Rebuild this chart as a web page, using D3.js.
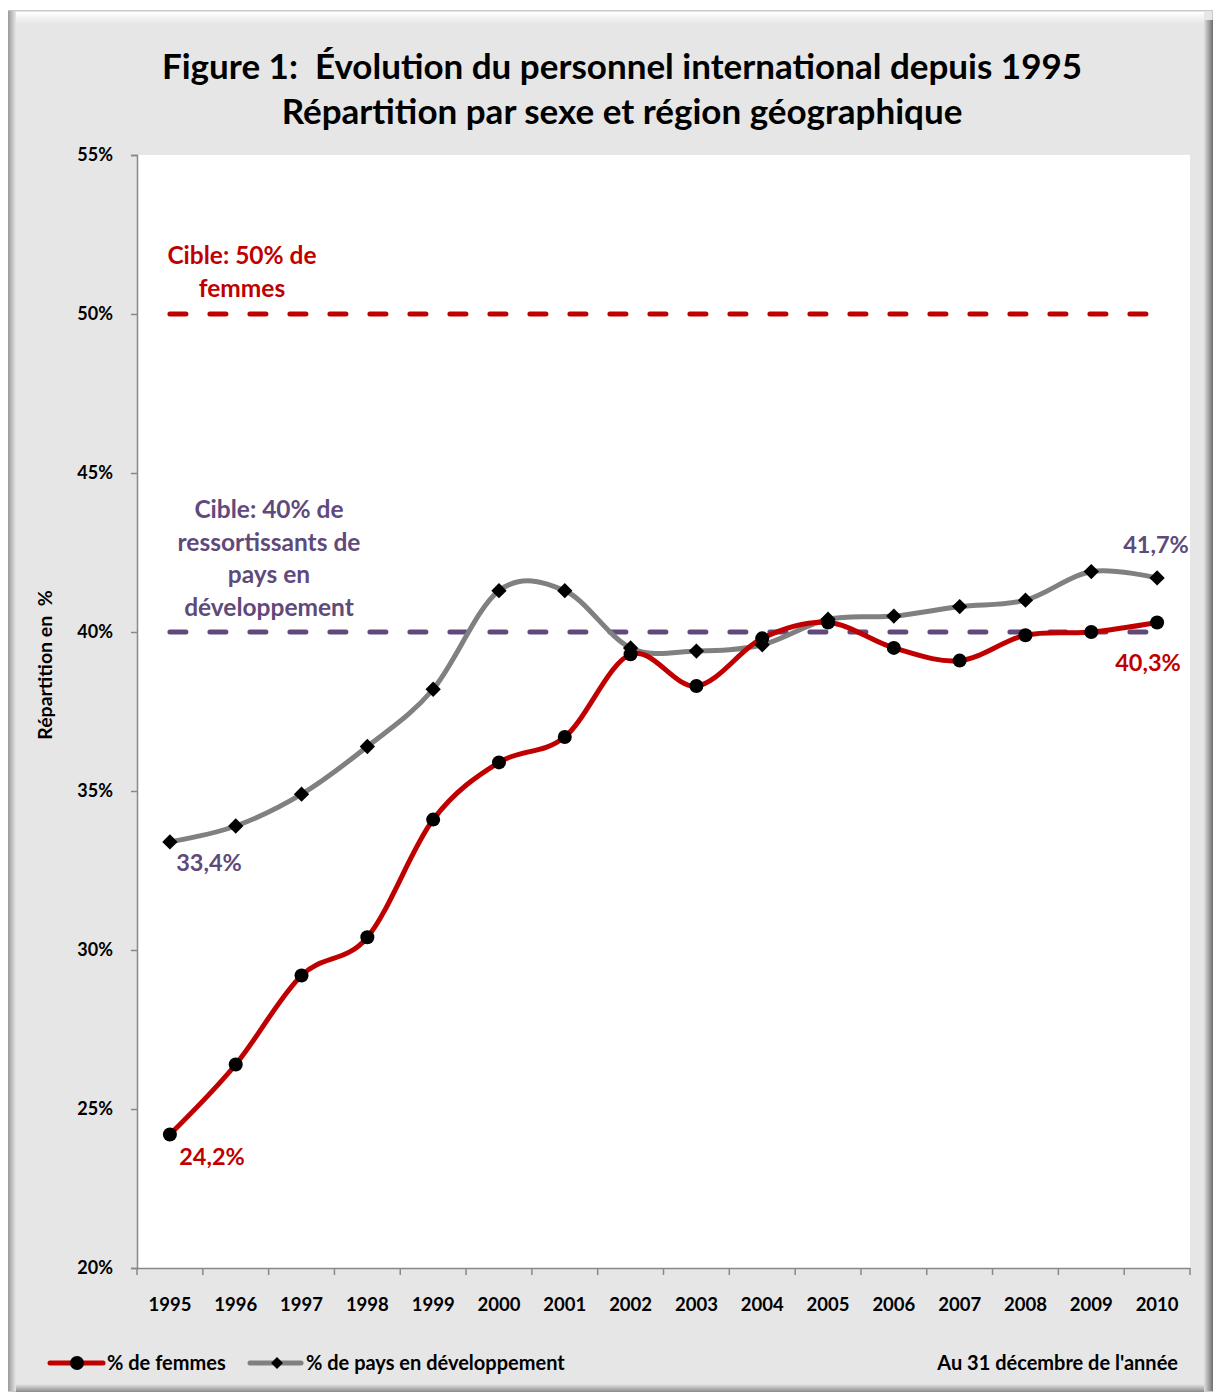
<!DOCTYPE html>
<html>
<head>
<meta charset="utf-8">
<script src="https://cdn.jsdelivr.net/npm/d3@7"></script>
<style>
  body { margin: 0; background: #fff; }
  text { font-family: Lato, "Open Sans", sans-serif; font-weight: bold; }
</style>
</head>
<body>
<div id="container"></div>
<script>
/* CONSTANTS AND GLOBALS */
const width = 1215,
  height = 1394,
  margin = { top: 155, bottom: 126, left: 137, right: 25 }

// data
const years = d3.range(1995, 2011).map(String)
const femmes = [24.2, 26.4, 29.2, 30.4, 34.1, 35.9, 36.7, 39.3, 38.3, 39.8, 40.3, 39.5, 39.1, 39.9, 40.0, 40.3]
const paysDev = [33.4, 33.9, 34.9, 36.4, 38.2, 41.3, 41.3, 39.5, 39.4, 39.6, 40.4, 40.5, 40.8, 41.0, 41.9, 41.7]
const yTicks = [20, 25, 30, 35, 40, 45, 50, 55]
const cibleFemmes = 50
const cibleDev = 40

const red = "#c00000", purple = "#604a7b", grey = "#808080"
const fmt = v => d3.format(".1f")(v).replace(".", ",") + "%"

const svg = d3.select("#container")
  .append("svg")
  .attr("width", width)
  .attr("height", height)

// frame with bevel
const defs = svg.append("defs")
const gl = defs.append("linearGradient").attr("id", "gl").attr("x1", 0).attr("x2", 1)
gl.append("stop").attr("offset", 0).attr("stop-color", "#9a9a9a")
gl.append("stop").attr("offset", 1).attr("stop-color", "#e6e6e6")
const gr = defs.append("linearGradient").attr("id", "gr").attr("x1", 0).attr("x2", 1)
gr.append("stop").attr("offset", 0).attr("stop-color", "#e0e0e0")
gr.append("stop").attr("offset", 1).attr("stop-color", "#6e6e6e")
const gt = defs.append("linearGradient").attr("id", "gt").attr("x1", 0).attr("x2", 0).attr("y1", 0).attr("y2", 1)
gt.append("stop").attr("offset", 0).attr("stop-color", "#ffffff")
gt.append("stop").attr("offset", 1).attr("stop-color", "#e6e6e6")
const gb = defs.append("linearGradient").attr("id", "gb").attr("x1", 0).attr("x2", 0).attr("y1", 0).attr("y2", 1)
gb.append("stop").attr("offset", 0).attr("stop-color", "#e6e6e6")
gb.append("stop").attr("offset", 1).attr("stop-color", "#8a8a8a")

svg.append("rect").attr("x", 8).attr("y", 10).attr("width", 1205).attr("height", 1382).attr("fill", "#c8c8c8")
svg.append("rect").attr("x", 9).attr("y", 11).attr("width", 1203).attr("height", 1380).attr("fill", "#e6e6e6")
svg.append("rect").attr("x", 14).attr("y", 12).attr("width", 1190).attr("height", 12).attr("fill", "url(#gt)")
svg.append("rect").attr("x", 8).attr("y", 11).attr("width", 8).attr("height", 1380).attr("fill", "url(#gl)")
svg.append("rect").attr("x", 1204).attr("y", 20).attr("width", 9).attr("height", 1371).attr("fill", "url(#gr)")
svg.append("rect").attr("x", 16).attr("y", 1384).attr("width", 1188).attr("height", 8).attr("fill", "url(#gb)")

// SCALES
const xBand = d3.scaleBand()
  .domain(years)
  .range([margin.left, width - margin.right])
const xMid = d => xBand(d) + xBand.bandwidth() / 2

const yScale = d3.scaleLinear()
  .domain([20, 55])
  .range([height - margin.bottom, margin.top])

// plot area
svg.append("rect")
  .attr("x", margin.left)
  .attr("y", margin.top)
  .attr("width", width - margin.right - margin.left)
  .attr("height", yScale(20) - yScale(55))
  .attr("fill", "#fff")

// AXES
const yAxis = d3.axisLeft(yScale)
  .tickValues(yTicks)
  .tickSize(6)
  .tickPadding(18)
  .tickFormat(d => d + "%")

const yAxisGroup = svg.append("g")
  .attr("transform", `translate(${margin.left}, 0)`)
  .call(yAxis)
yAxisGroup.select(".domain").attr("stroke", "#888").attr("stroke-width", 1.5)
yAxisGroup.selectAll(".tick line").attr("stroke", "#888").attr("stroke-width", 1.5)
yAxisGroup.selectAll("text").style("font-size", "18px").attr("fill", "#000")

const xAxis = d3.axisBottom(xBand).tickSize(0).tickPadding(30)
const xAxisGroup = svg.append("g")
  .attr("transform", `translate(0, ${yScale(20)})`)
  .call(xAxis)
xAxisGroup.select(".domain").attr("stroke", "#888").attr("stroke-width", 1.5)
xAxisGroup.selectAll("text").style("font-size", "18.5px").attr("fill", "#000")
xAxisGroup.selectAll(".bound")
  .data(years.map(d => xBand(d)).concat([width - margin.right]))
  .join("line")
  .attr("x1", d => d).attr("x2", d => d)
  .attr("y1", 0).attr("y2", 7)
  .attr("stroke", "#888").attr("stroke-width", 1.5)

// target lines
const targets = [
  { v: cibleFemmes, c: red },
  { v: cibleDev, c: purple }
]
svg.selectAll(".target")
  .data(targets)
  .join("line")
  .attr("x1", xMid(years[0]))
  .attr("x2", xMid(years[years.length - 1]))
  .attr("y1", d => yScale(d.v))
  .attr("y2", d => yScale(d.v))
  .attr("stroke", d => d.c)
  .attr("stroke-width", 5)
  .attr("stroke-linecap", "round")
  .attr("stroke-dasharray", "16,24")

// LINES
const lineGen = d3.line()
  .x((d, i) => xMid(years[i]))
  .y(d => yScale(d))
  .curve(d3.curveCardinal.tension(0))

svg.append("path")
  .datum(paysDev)
  .attr("fill", "none")
  .attr("stroke", grey)
  .attr("stroke-width", 5)
  .attr("d", lineGen)

svg.append("path")
  .datum(femmes)
  .attr("fill", "none")
  .attr("stroke", red)
  .attr("stroke-width", 5)
  .attr("d", lineGen)

svg.selectAll(".dot")
  .data(femmes)
  .join("circle")
  .attr("cx", (d, i) => xMid(years[i]))
  .attr("cy", d => yScale(d))
  .attr("r", 7)
  .attr("fill", "#000")

svg.selectAll(".diam")
  .data(paysDev)
  .join("path")
  .attr("d", d3.symbol(d3.symbolDiamond2, 150))
  .attr("transform", (d, i) => `translate(${xMid(years[i])}, ${yScale(d)})`)
  .attr("fill", "#000")

// value labels
const labels = [
  { t: fmt(paysDev[paysDev.length - 1]), x: 1156, y: yScale(paysDev[paysDev.length - 1]) - 25, c: purple },
  { t: fmt(femmes[femmes.length - 1]), x: 1148, y: yScale(femmes[femmes.length - 1]) + 49, c: red },
  { t: fmt(paysDev[0]), x: 209, y: yScale(paysDev[0]) + 29, c: purple },
  { t: fmt(femmes[0]), x: 212, y: yScale(femmes[0]) + 31, c: red }
]
svg.selectAll(".vlab")
  .data(labels)
  .join("text")
  .attr("x", d => d.x)
  .attr("y", d => d.y)
  .attr("text-anchor", "middle")
  .attr("fill", d => d.c)
  .style("font-size", "23.5px")
  .text(d => d.t)

// target captions
const cap = (lines, x, y0, c) => {
  svg.append("text")
    .attr("text-anchor", "middle")
    .attr("fill", c)
    .style("font-size", "24.5px")
    .selectAll("tspan")
    .data(lines)
    .join("tspan")
    .attr("x", x)
    .attr("y", (d, i) => y0 + i * 32.5)
    .text(d => d)
}
cap(["Cible: 50% de", "femmes"], 242, 264, red)
cap(["Cible: 40% de", "ressortissants de", "pays en", "développement"], 269, 518, purple)

// Titles
svg.append("text")
  .attr("text-anchor", "middle")
  .style("font-size", "35px")
  .selectAll("tspan")
  .data(["Figure 1:  Évolution du personnel international depuis 1995", "Répartition par sexe et région géographique"])
  .join("tspan")
  .attr("x", 622)
  .attr("y", (d, i) => 79 + i * 45)
  .attr("xml:space", "preserve")
  .text(d => d)

svg.append("text")
  .attr("transform", "rotate(-90)")
  .attr("x", -665)
  .attr("y", 52)
  .attr("text-anchor", "middle")
  .style("font-size", "19.5px")
  .attr("xml:space", "preserve")
  .text("Répartition en  %")

// legend
const lg = svg.append("g").attr("transform", "translate(0, 1363)")
lg.append("line").attr("x1", 50).attr("x2", 103).attr("stroke", red).attr("stroke-width", 5).attr("stroke-linecap", "round")
lg.append("circle").attr("cx", 77).attr("r", 7).attr("fill", "#000")
lg.append("text").attr("x", 107).attr("y", 7).style("font-size", "20px").text("% de femmes")
lg.append("line").attr("x1", 250).attr("x2", 301).attr("stroke", grey).attr("stroke-width", 5).attr("stroke-linecap", "round")
lg.append("path").attr("d", d3.symbol(d3.symbolDiamond2, 90)).attr("transform", "translate(277, 0)").attr("fill", "#000")
lg.append("text").attr("x", 306).attr("y", 7).style("font-size", "20px").text("% de pays en développement")
lg.append("text").attr("x", 1178).attr("y", 7).attr("text-anchor", "end").style("font-size", "20px").text("Au 31 décembre de l'année")
</script>
</body>
</html>
